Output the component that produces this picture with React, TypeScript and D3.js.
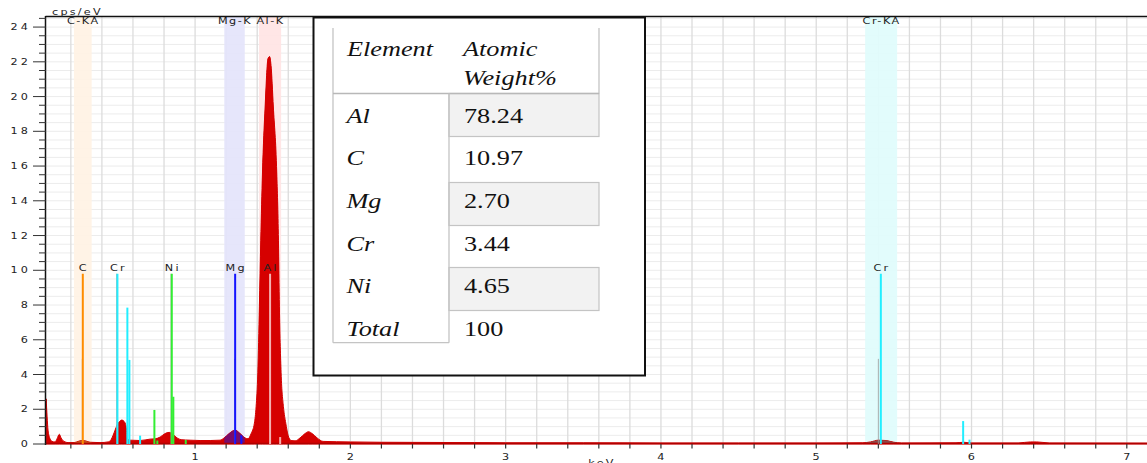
import React from 'react';
import * as d3 from 'd3';

const W = 1147;
const H = 463;

// ---- data ----
const xDomain: [number, number] = [0.04, 7.13];
const yDomain: [number, number] = [0, 24.58];
const yTickLabels = [0, 2, 4, 6, 8, 10, 12, 14, 16, 18, 20, 22, 24];
const xTickLabels = [1, 2, 3, 4, 5, 6, 7];

// spectrum [keV, cps/eV]
const spectrum: [number, number][] = [
  [0.041, 2.6], [0.047, 1.6], [0.053, 0.8], [0.066, 0.3], [0.079, 0.15], [0.099, 0.12],
  [0.111, 0.3], [0.126, 0.56], [0.137, 0.35], [0.156, 0.15], [0.182, 0.08], [0.221, 0.08],
  [0.247, 0.15], [0.272, 0.2], [0.298, 0.17], [0.324, 0.1], [0.388, 0.08], [0.44, 0.12],
  [0.459, 0.25], [0.472, 0.5], [0.485, 0.8], [0.498, 1.1], [0.514, 1.3], [0.528, 1.38],
  [0.543, 1.3], [0.556, 1.0], [0.562, 0.35], [0.582, 0.22], [0.646, 0.2], [0.71, 0.28],
  [0.743, 0.3], [0.775, 0.4], [0.807, 0.6], [0.833, 0.67], [0.858, 0.55], [0.884, 0.35],
  [0.91, 0.25], [0.968, 0.22], [1.032, 0.2], [1.097, 0.2], [1.161, 0.22], [1.187, 0.35],
  [1.219, 0.6], [1.258, 0.8], [1.29, 0.6], [1.322, 0.35], [1.341, 0.3], [1.361, 0.6],
  [1.382, 1.2], [1.393, 2.15], [1.404, 4.1], [1.414, 7.9], [1.423, 11.7], [1.434, 15.6],
  [1.451, 19.4], [1.47, 22.2], [1.48, 22.3], [1.489, 21.8], [1.504, 19.4], [1.526, 15.6],
  [1.537, 11.7], [1.543, 7.9], [1.554, 4.1], [1.569, 2.15], [1.584, 1.2], [1.599, 0.5],
  [1.618, 0.2], [1.644, 0.18], [1.676, 0.35], [1.708, 0.6], [1.73, 0.71], [1.754, 0.6],
  [1.786, 0.35], [1.824, 0.15], [2.0, 0.12], [2.2, 0.1], [2.5, 0.09], [2.8, 0.08],
  [3.0, 0.07], [3.5, 0.07], [4.0, 0.06], [4.5, 0.06], [5.0, 0.06], [5.3, 0.07],
  [5.35, 0.12], [5.4, 0.22], [5.45, 0.2], [5.5, 0.1], [5.55, 0.06], [5.9, 0.07],
  [5.95, 0.1], [6.0, 0.06], [6.3, 0.06], [6.38, 0.12], [6.42, 0.12], [6.5, 0.06],
  [7.13, 0.05],
];

// element region bands
const bandLabels = ['C-KA', 'Mg-K', 'Al-K', 'Cr-KA'];
const bandCenters = [0.277, 1.254, 1.483, 5.418];
const bandHalfWidths = [0.057, 0.066, 0.071, 0.103];

// labelled marker lines
const markerElements = ['C', 'Cr', 'Ni', 'Mg', 'Al', 'Cr'];
const markerEnergies = [0.277, 0.5, 0.85, 1.258, 1.483, 5.416];
const markerHeights = [9.8, 9.8, 9.8, 9.8, 9.8, 9.8];

// secondary (unlabelled) lines [element, keV, height]
const minorLines: [string, number, number][] = [
  ['Cr', 0.564, 7.85], ['Cr', 0.577, 4.84], ['Cr', 0.646, 0.48],
  ['Ni', 0.738, 1.96], ['Ni', 0.757, 0.2], ['Ni', 0.86, 2.72], ['Ni', 0.94, 0.23],
  ['Mg', 1.298, 0.5], ['Al', 1.548, 0.4],
  ['Cr', 5.946, 1.32], ['Cr', 5.987, 0.25],
];
// half-height companion lines [keV, height]
const companionLines: [number, number][] = [
  [0.274, 4.9], [0.495, 9.8], [0.845, 9.8], [1.254, 4.9], [5.4, 4.9],
];

// table
const tableHeaders = ['Element', 'Atomic', 'Weight%'];
const tableElements = ['Al', 'C', 'Mg', 'Cr', 'Ni', 'Total'];
const tableValues = ['78.24', '10.97', '2.70', '3.44', '4.65', '100'];

// ---- styles ----
const elementColor: Record<string, string> = {
  C: '#ff8c00', Cr: '#22eeff', Ni: '#33ee33', Mg: '#1414ff', Al: '#f4b0b0',
};
const bandFill: Record<string, string> = {
  'C-KA': '#fff2e4', 'Mg-K': '#e4e4fb', 'Al-K': '#ffe4e4', 'Cr-KA': '#e0fcfc',
};
const bandSpectrumFill: Record<string, string> = {
  'C-KA': '#c4501c', 'Mg-K': '#780c6c', 'Al-K': '#d60000', 'Cr-KA': '#8a4848',
};
const SPEC = '#d40000';
const AXIS_FONT = 'DejaVu Sans';
const SERIF = "Times New Roman, Liberation Serif, DejaVu Serif, serif";

function StretchText(props: {
  x: number; y: number; anchor?: string; size?: number; sx?: number; ls?: number;
  children: React.ReactNode; fill?: string; family?: string; italic?: boolean;
}) {
  const { x, y, anchor = 'start', size = 8, sx = 1.4, ls = 1.6, fill = '#222', family = AXIS_FONT, italic } = props;
  return (
    <text
      transform={`translate(${x},${y}) scale(${sx},1)`}
      textAnchor={anchor as any}
      fontFamily={family}
      fontSize={size}
      fontStyle={italic ? 'italic' : 'normal'}
      letterSpacing={ls}
      fill={fill}
    >
      {props.children}
    </text>
  );
}

export default function App() {
  const left = 46, top = 17, bottom = 444, right = W;
  const x = d3.scaleLinear().domain(xDomain).range([left, right]);
  const y = d3.scaleLinear().domain(yDomain).range([bottom, top]);

  const area = d3.area<[number, number]>()
    .x((d) => x(d[0]))
    .y0(y(0))
    .y1((d) => y(d[1]))
    .curve(d3.curveMonotoneX);
  const areaPath = area(spectrum) || '';

  const vGrid = d3.range(0.2, 7.13, 0.2);
  const hGrid = d3.range(0.5, 24.6, 0.5);
  const yMinor = d3.range(0.5, 24.6, 0.5).filter((v) => Math.abs(v / 2 - Math.round(v / 2)) > 1e-6);

  // table geometry
  const tL = 333, tMid = 449, tR = 599, tTop = 28, tHead = 93.5, tBot = 342.7;
  const rowTops = [93.5, 137, 182.5, 224.5, 267.5, 310];
  const rowBase = [123, 164.5, 208, 250.5, 292.5, 335.5];

  return (
    <svg width={W} height={H} style={{ position: 'absolute', left: 0, top: 0, display: 'block', background: '#fff' }}>
      <defs>
        {bandLabels.map((b, i) => (
          <clipPath id={`band-${i}`} key={b}>
            <rect x={x(bandCenters[i] - bandHalfWidths[i])} y={top} width={x(bandCenters[i] + bandHalfWidths[i]) - x(bandCenters[i] - bandHalfWidths[i])} height={bottom - top + 2} />
          </clipPath>
        ))}
        <clipPath id="plot">
          <rect x={left} y={top} width={right - left} height={bottom - top + 1} />
        </clipPath>
      </defs>
      <rect x={0} y={0} width={W} height={H} fill="#fff" />

      {/* grid */}
      {hGrid.map((v) => (
        <line key={`h${v}`} x1={left} x2={right} y1={y(v)} y2={y(v)} stroke="#ececec" strokeWidth={1} />
      ))}
      {vGrid.map((v) => (
        <line key={`v${v}`} x1={x(v)} x2={x(v)} y1={top} y2={bottom} stroke="#dcdcdc" strokeWidth={1.3} />
      ))}

      {/* bands */}
      {bandLabels.map((b, i) => (
        <rect key={b} x={x(bandCenters[i] - bandHalfWidths[i])} y={top}
          width={x(bandCenters[i] + bandHalfWidths[i]) - x(bandCenters[i] - bandHalfWidths[i])}
          height={bottom - top} fill={bandFill[b]} opacity={0.92} />
      ))}

      {/* spectrum */}
      <g clipPath="url(#plot)">
        <path d={areaPath} fill={SPEC} stroke={SPEC} strokeWidth={1} />
        {bandLabels.map((b, i) => (
          <path key={b} d={areaPath} fill={bandSpectrumFill[b]} clipPath={`url(#band-${i})`} />
        ))}
        <line x1={left} x2={right} y1={bottom - 0.5} y2={bottom - 0.5} stroke="#b00000" strokeWidth={1.5} />
      </g>

      {/* marker lines */}
      {companionLines.map(([e, h], i) => (
        <line key={`c${i}`} x1={x(e)} x2={x(e)} y1={y(0)} y2={y(h)} stroke="#999" strokeOpacity={0.8} strokeWidth={1} />
      ))}
      {minorLines.map(([el, e, h], i) => (
        <line key={`m${i}`} x1={x(e)} x2={x(e)} y1={y(0)} y2={y(h)} stroke={elementColor[el]} strokeWidth={2} />
      ))}
      {markerElements.map((el, i) => (
        <line key={`k${i}`} x1={x(markerEnergies[i])} x2={x(markerEnergies[i])} y1={y(0)} y2={y(markerHeights[i])}
          stroke={elementColor[el]} strokeWidth={2} />
      ))}
      {markerElements.map((el, i) => (
        <StretchText key={`kl${i}`} x={x(markerEnergies[i]) + 1} y={y(markerHeights[i]) - 2.5} anchor="middle">{el}</StretchText>
      ))}
      {bandLabels.map((b, i) => (
        <StretchText key={`bl${i}`} x={x(bandCenters[i]) + 0.5} y={24} anchor="middle" ls={1.1}>{b}</StretchText>
      ))}

      {/* axes */}
      <line x1={left - 0.5} x2={right} y1={top - 0.5} y2={top - 0.5} stroke="#111" strokeWidth={1.3} />
      <line x1={left - 0.5} x2={left - 0.5} y1={top - 1} y2={bottom + 1} stroke="#111" strokeWidth={1.5} />
      {yMinor.map((v) => (
        <line key={`ym${v}`} x1={39} x2={left} y1={y(v)} y2={y(v)} stroke="#333" strokeWidth={1} />
      ))}
      {yTickLabels.map((v) => (
        <g key={`yt${v}`}>
          <line x1={33} x2={left} y1={y(v)} y2={y(v)} stroke="#333" strokeWidth={1} />
          <StretchText x={31} y={y(v) + 3} anchor="end" ls={2.2}>{v}</StretchText>
        </g>
      ))}
      {vGrid.map((v) => (
        <line key={`xt${v}`} x1={x(v)} x2={x(v)} y1={bottom} y2={bottom + 4.5} stroke="#333" strokeWidth={1.2} />
      ))}
      {xTickLabels.map((v) => (
        <StretchText key={`xl${v}`} x={x(v) + 1} y={459.5} anchor="middle">{v}</StretchText>
      ))}
      <StretchText x={52} y={15}>cps/eV</StretchText>
      <StretchText x={602} y={465.5} anchor="middle">keV</StretchText>

      {/* table */}
      <rect x={313.5} y={17.5} width={331.5} height={358} fill="#fff" stroke="#111" strokeWidth={2} />
      {[0, 2, 4].map((i) => (
        <rect key={`sh${i}`} x={tMid} y={rowTops[i]} width={tR - tMid} height={43}
          fill="#f2f2f2" stroke="#c4c4c4" strokeWidth={1.2} />
      ))}
      <line x1={tL} x2={tL} y1={tTop} y2={tBot} stroke="#c4c4c4" strokeWidth={1.3} />
      <line x1={tR} x2={tR} y1={tTop} y2={tHead} stroke="#c4c4c4" strokeWidth={1.3} />
      <line x1={tL} x2={tR} y1={tHead} y2={tHead} stroke="#b8b8b8" strokeWidth={1.6} />
      <line x1={tMid} x2={tMid} y1={tHead} y2={tBot} stroke="#c4c4c4" strokeWidth={1.3} />
      <line x1={tL} x2={tMid} y1={tBot} y2={tBot} stroke="#c4c4c4" strokeWidth={1.3} />
      <StretchText x={347} y={55.5} size={21} sx={1.25} ls={0} fill="#111" family={SERIF} italic>{tableHeaders[0]}</StretchText>
      <StretchText x={463} y={55.5} size={21} sx={1.25} ls={0} fill="#111" family={SERIF} italic>{tableHeaders[1]}</StretchText>
      <StretchText x={463} y={85} size={21} sx={1.25} ls={0} fill="#111" family={SERIF} italic>{tableHeaders[2]}</StretchText>
      {tableElements.map((el, i) => (
        <g key={`tr${i}`}>
          <StretchText x={346.5} y={rowBase[i]} size={21} sx={1.25} ls={0} fill="#111" family={SERIF} italic>{el}</StretchText>
          <StretchText x={464} y={rowBase[i]} size={21} sx={1.25} ls={0} fill="#111" family={SERIF}>{tableValues[i]}</StretchText>
        </g>
      ))}
    </svg>
  );
}
